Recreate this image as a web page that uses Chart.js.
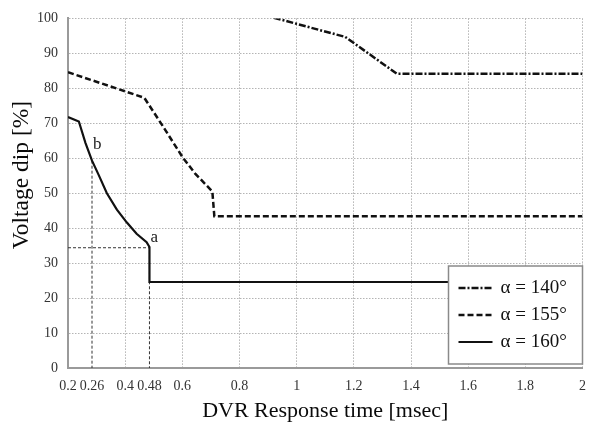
<!DOCTYPE html>
<html lang="en">
<head>
    <meta charset="UTF-8">
    <title>Voltage dip vs DVR response time</title>
    <script src="https://cdn.jsdelivr.net/npm/chart.js"></script>
    <style>
        body {
            margin: 0;
            background-color: #ffffff;
        }

        .chart-container {
            width: 596px;
            height: 435px;
        }
    </style>
</head>
<body>
    <div class="chart-container">
        <canvas id="dipChart"></canvas>
    </div>

    <script>
        // Curve alpha = 140 deg
        const s140X = [0.92, 1.17, 1.35, 2.0];
        const s140Y = [100.2, 94.7, 84.2, 84.2];

        // Curve alpha = 155 deg
        const s155X = [0.2, 0.467, 0.53, 0.6, 0.645, 0.705, 0.712, 2.0];
        const s155Y = [84.6, 77.3, 69.4, 60.4, 55.6, 50.5, 43.4, 43.4];

        // Curve alpha = 160 deg
        const s160X = [0.2, 0.238, 0.261, 0.284, 0.308, 0.336, 0.371, 0.406, 0.44, 0.475, 0.485, 0.485, 2.0];
        const s160Y = [71.8, 70.5, 64.4, 59.3, 55.1, 50.0, 45.3, 41.6, 38.4, 36.0, 34.6, 24.6, 24.6];

        // Drop lines to points a and b
        const dropAX = [0.2, 0.485, 0.485];
        const dropAY = [34.4, 34.4, 0];
        const dropBX = [0.284, 0.284];
        const dropBY = [59.3, 0];

        // Point labels
        const noteText = ['a', 'b'];
        const noteX = [0.502, 0.302];
        const noteY = [37.4, 64];

        // Axis ticks
        const xTickValues = [0.2, 0.284, 0.4, 0.485, 0.6, 0.8, 1.0, 1.2, 1.4, 1.6, 1.8, 2.0];
        const xTickLabels = ['0.2', '0.26', '0.4', '0.48', '0.6', '0.8', '1', '1.2', '1.4', '1.6', '1.8', '2'];
        const xGridValues = [0.2, 0.4, 0.6, 0.8, 1.0, 1.2, 1.4, 1.6, 1.8, 2.0];

        const yTitle = 'Voltage dip [%]';

        const toPoints = (xs, ys) => xs.map((x, i) => ({ x: x, y: ys[i] }));

        const serif = 'Liberation Serif, Times New Roman, serif';

        // Legend box inside the plot, lower right
        const boxLegend = {
            id: 'boxLegend',
            afterDatasetsDraw(chart) {
                const ctx = chart.ctx;
                const area = chart.chartArea;
                const items = chart.data.datasets.filter(d => d.inLegend);
                const w = 134, h = 98;
                const left = area.right - w, top = area.bottom - h - 4;
                ctx.save();
                ctx.fillStyle = '#ffffff';
                ctx.strokeStyle = '#8a8a8a';
                ctx.lineWidth = 1.5;
                ctx.fillRect(left, top, w, h);
                ctx.strokeRect(left, top, w, h);
                ctx.font = '19px ' + serif;
                ctx.textBaseline = 'middle';
                ctx.fillStyle = '#111';
                items.forEach((d, i) => {
                    const y = top + 22 + i * 27;
                    ctx.beginPath();
                    ctx.setLineDash(d.borderDash || []);
                    ctx.lineWidth = d.borderWidth;
                    ctx.strokeStyle = d.borderColor;
                    ctx.moveTo(left + 10, y);
                    ctx.lineTo(left + 44, y);
                    ctx.stroke();
                    ctx.setLineDash([]);
                    ctx.fillText(d.label, left + 52, y);
                });
                ctx.restore();
            }
        };

        // Letters a and b next to the curve, plus the y axis title
        const pointNotes = {
            id: 'pointNotes',
            afterDatasetsDraw(chart) {
                const ctx = chart.ctx;
                const xs = chart.scales.x, ys = chart.scales.y;
                ctx.save();
                ctx.font = '17px ' + serif;
                ctx.fillStyle = '#222';
                ctx.textAlign = 'center';
                ctx.textBaseline = 'middle';
                noteText.forEach((t, i) => {
                    ctx.fillText(t, xs.getPixelForValue(noteX[i]), ys.getPixelForValue(noteY[i]));
                });
                ctx.translate(22, 175);
                ctx.rotate(-Math.PI / 2);
                ctx.font = '23.5px ' + serif;
                ctx.fillStyle = '#0a0a0a';
                ctx.fillText(yTitle, 0, 0);
                ctx.restore();
            }
        };

        const dipChart = new Chart(document.getElementById('dipChart'), {
            type: 'line',
            data: {
                datasets: [
                    {
                        label: 'α = 140°',
                        data: toPoints(s140X, s140Y),
                        borderColor: '#111',
                        borderWidth: 2.5,
                        borderDash: [7, 2, 2, 2],
                        inLegend: true
                    },
                    {
                        label: 'α = 155°',
                        data: toPoints(s155X, s155Y),
                        borderColor: '#111',
                        borderWidth: 2.5,
                        borderDash: [6, 3],
                        inLegend: true
                    },
                    {
                        label: 'α = 160°',
                        data: toPoints(s160X, s160Y),
                        borderColor: '#111',
                        borderWidth: 2.2,
                        inLegend: true
                    },
                    {
                        label: 'a',
                        data: toPoints(dropAX, dropAY),
                        borderColor: '#333',
                        borderWidth: 1,
                        borderDash: [3, 2]
                    },
                    {
                        label: 'b',
                        data: toPoints(dropBX, dropBY),
                        borderColor: '#333',
                        borderWidth: 1,
                        borderDash: [3, 2]
                    }
                ]
            },
            options: {
                responsive: true,
                maintainAspectRatio: false,
                animation: false,
                layout: {
                    padding: { top: 9, right: 9, left: 0, bottom: 0 }
                },
                elements: {
                    point: { radius: 0 },
                    line: { tension: 0, fill: false }
                },
                plugins: {
                    legend: { display: false },
                    tooltip: { enabled: false }
                },
                scales: {
                    x: {
                        type: 'linear',
                        min: 0.2,
                        max: 2,
                        afterBuildTicks: (scale) => {
                            scale.ticks = xTickValues.map(v => ({ value: v }));
                        },
                        afterFit: (scale) => {
                            scale.height = 67;
                        },
                        ticks: {
                            autoSkip: false,
                            maxRotation: 0,
                            padding: 10,
                            color: '#333',
                            font: { family: serif, size: 14 },
                            callback: (value, index) => xTickLabels[index]
                        },
                        grid: {
                            drawTicks: false,
                            lineWidth: 1,
                            color: (ctx) => {
                                const v = ctx.tick ? ctx.tick.value : null;
                                return xGridValues.some(g => Math.abs(g - v) < 1e-6) ? '#b4b4b4' : 'rgba(0,0,0,0)';
                            }
                        },
                        border: {
                            display: true,
                            color: '#9a9a9a',
                            width: 2,
                            dash: [1.5, 1.5]
                        },
                        title: {
                            display: true,
                            text: 'DVR Response time [msec]',
                            color: '#0a0a0a',
                            font: { family: serif, size: 22 },
                            padding: { top: 0, bottom: 11 }
                        }
                    },
                    y: {
                        min: 0,
                        max: 100,
                        afterFit: (scale) => {
                            scale.width = 68;
                        },
                        ticks: {
                            stepSize: 10,
                            padding: 10,
                            color: '#333',
                            font: { family: serif, size: 14 }
                        },
                        grid: {
                            drawTicks: false,
                            lineWidth: 1,
                            color: '#b4b4b4'
                        },
                        border: {
                            display: true,
                            color: '#9a9a9a',
                            width: 2,
                            dash: [1.5, 1.5]
                        }
                    }
                }
            },
            plugins: [pointNotes, boxLegend]
        });
    </script>
</body>
</html>
